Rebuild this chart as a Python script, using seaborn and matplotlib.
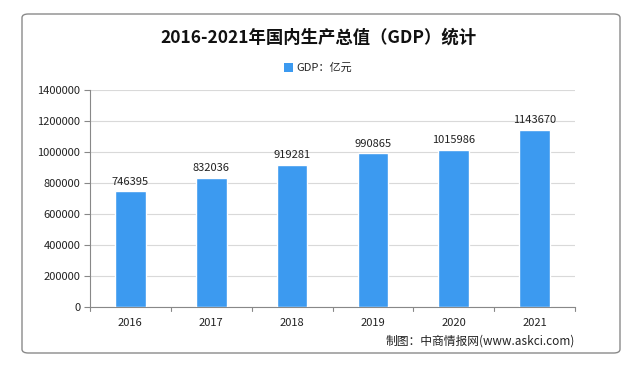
import matplotlib
matplotlib.use("Agg")
import matplotlib.pyplot as plt
from matplotlib.patches import FancyBboxPatch, Patch
import pandas as pd
import seaborn as sns

years = ["2016", "2017", "2018", "2019", "2020", "2021"]
gdp = [746395, 832036, 919281, 990865, 1015986, 1143670]
yticks = [0, 200000, 400000, 600000, 800000, 1000000, 1200000, 1400000]

sns.set_style("white")
plt.rcParams["font.family"] = ["Noto Sans CJK SC", "DejaVu Sans"]

df = pd.DataFrame({"year": years, "gdp": gdp})
bar_color = "#3C9AF0"

fig = plt.figure(figsize=(6.35, 3.76), dpi=100)

# outer frame, behind the axes
frame = FancyBboxPatch((22 / 635, 1 - 353 / 376), 598 / 635, 339 / 376,
                       boxstyle="round,pad=0,rounding_size=0.01",
                       transform=fig.transFigure, facecolor="white",
                       edgecolor="#8A8A8A", linewidth=1.0, zorder=-5)
fig.patches.append(frame)

ax = fig.add_axes([90 / 635, 1 - 307 / 376, 485 / 635, 217 / 376])
ax.set_facecolor("none")
sns.barplot(data=df, x="year", y="gdp", color=bar_color, width=0.38,
            saturation=1, ax=ax, zorder=3)

for i, v in enumerate(gdp):
    ax.text(i, v + 30000, str(v), ha="center", va="bottom", fontsize=8,
            color="#222222", zorder=4)

ax.set_ylim(0, 1400000)
ax.set_yticks(yticks)
ax.set_yticklabels([str(t) for t in yticks], fontsize=8, color="#222222")
ax.set_xlim(-0.5, 5.5)
ax.set_xticks(range(len(years)))
ax.set_xticklabels(years, fontsize=8, color="#222222")
ax.tick_params(axis="x", length=0, pad=8)
ax.tick_params(axis="y", length=4, color="#888888", left=True, pad=3)
for x in [i + 0.5 for i in range(-1, 6)]:
    ax.plot([x, x], [0, -25000], color="#888888", lw=0.8, clip_on=False)
ax.yaxis.grid(True, color="#D9D9D9", lw=0.8, zorder=0)
ax.set_axisbelow(True)
ax.set_xlabel("")
ax.set_ylabel("")
for s in ["top", "right"]:
    ax.spines[s].set_visible(False)
ax.spines["left"].set_color("#888888")
ax.spines["bottom"].set_color("#888888")
ax.spines["left"].set_linewidth(0.8)
ax.spines["bottom"].set_linewidth(0.8)

fig.text(318 / 635, 1 - 38 / 376, "2016-2021年国内生产总值（GDP）统计",
         ha="center", va="center", fontsize=12.5, fontweight="bold", color="#111111")

handle = Patch(facecolor=bar_color, edgecolor="none")
fig.legend([handle], ["GDP：亿元"], loc="center", bbox_to_anchor=(318 / 635, 1 - 68 / 376),
           frameon=False, fontsize=8, handlelength=0.8, handleheight=0.8,
           handletextpad=0.3)

fig.text(480 / 635, 1 - 341 / 376, "制图：中商情报网(www.askci.com)",
         ha="center", va="center", fontsize=8.5, color="#222222")

fig.savefig("out.png", dpi=100)
